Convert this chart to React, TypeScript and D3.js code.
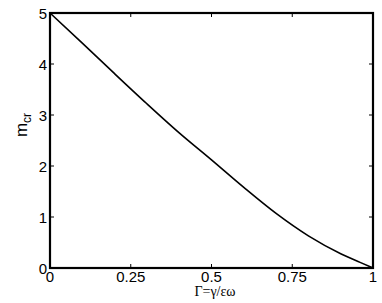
import React, { useEffect, useRef } from "react";
import * as d3 from "d3";

// Gamma values and the critical m
const gammaValues = [0, 0.1, 0.2, 0.3, 0.4, 0.5, 0.6, 0.7, 0.8, 0.9, 0.96, 1];
const mcrValues = [5.0, 4.41, 3.81, 3.22, 2.65, 2.12, 1.58, 1.07, 0.63, 0.28, 0.11, 0];
const xTicks = [0, 0.25, 0.5, 0.75, 1];
const xTickLabels = ["0", "0.25", "0.5", "0.75", "1"];
const yTicks = [0, 1, 2, 3, 4, 5];

const App = () => {
  const ref = useRef<SVGSVGElement | null>(null);

  useEffect(() => {
    const width = 382;
    const height = 303;
    const margin = { left: 50, right: 9, top: 13, bottom: 35 };

    const svg = d3.select(ref.current);
    svg.selectAll("*").remove();

    const x = d3
      .scaleLinear()
      .domain([0, 1])
      .range([margin.left, width - margin.right]);
    const y = d3
      .scaleLinear()
      .domain([0, 5])
      .range([height - margin.bottom, margin.top]);

    const font = "'Liberation Sans', Arial, sans-serif";

    // curve
    const data = gammaValues.map((g, i) => [g, mcrValues[i]] as [number, number]);
    const line = d3
      .line<[number, number]>()
      .x((d) => x(d[0]))
      .y((d) => y(d[1]))
      .curve(d3.curveMonotoneX);

    svg
      .append("path")
      .datum(data)
      .attr("d", line)
      .attr("fill", "none")
      .attr("stroke", "#000")
      .attr("stroke-width", 1.6);

    // ticks on all four sides, pointing inward
    const tickLen = 4;
    const ticks = svg.append("g").attr("stroke", "#000").attr("stroke-width", 1);
    xTicks.forEach((t) => {
      ticks.append("line").attr("x1", x(t)).attr("x2", x(t)).attr("y1", y(0)).attr("y2", y(0) - tickLen);
      ticks.append("line").attr("x1", x(t)).attr("x2", x(t)).attr("y1", y(5)).attr("y2", y(5) + tickLen);
    });
    yTicks.forEach((t) => {
      ticks.append("line").attr("x1", x(0)).attr("x2", x(0) + tickLen).attr("y1", y(t)).attr("y2", y(t));
      ticks.append("line").attr("x1", x(1)).attr("x2", x(1) - tickLen).attr("y1", y(t)).attr("y2", y(t));
    });

    // frame
    svg
      .append("rect")
      .attr("x", x(0))
      .attr("y", y(5))
      .attr("width", x(1) - x(0))
      .attr("height", y(0) - y(5))
      .attr("fill", "none")
      .attr("stroke", "#000")
      .attr("stroke-width", 2.2);

    // tick labels
    svg
      .append("g")
      .selectAll("text")
      .data(xTicks)
      .enter()
      .append("text")
      .attr("x", (d) => x(d))
      .attr("y", y(0) + 14)
      .attr("text-anchor", "middle")
      .style("font-family", font)
      .style("font-size", "15px")
      .text((d, i) => xTickLabels[i]);

    svg
      .append("g")
      .selectAll("text")
      .data(yTicks)
      .enter()
      .append("text")
      .attr("x", x(0) - 3)
      .attr("y", (d) => y(d) + 6)
      .attr("text-anchor", "end")
      .style("font-family", font)
      .style("font-size", "15px")
      .text((d) => d);

    // x label
    svg
      .append("text")
      .attr("x", 215)
      .attr("y", 296)
      .attr("text-anchor", "middle")
      .style("font-family", "'Liberation Serif', 'Times New Roman', serif")
      .style("font-size", "14px")
      .text("Γ=γ/εω");

    // y label m_cr
    const yl = svg
      .append("text")
      .attr("transform", "translate(27,125) rotate(-90)")
      .attr("text-anchor", "middle")
      .style("font-family", font)
      .style("font-size", "17px");
    yl.append("tspan").text("m");
    yl.append("tspan")
      .attr("dy", 4)
      .style("font-size", "12px")
      .text("cr");
  });

  return (
    <svg
      ref={ref}
      width={382}
      height={303}
      style={{ position: "absolute", left: 0, top: 0, background: "#fff" }}
    />
  );
};

export default App;
